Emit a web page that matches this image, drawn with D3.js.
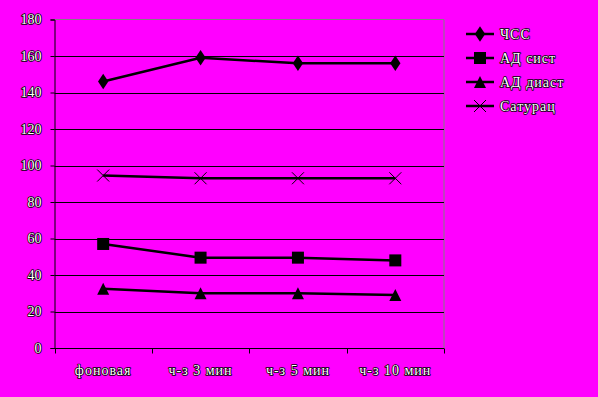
<!DOCTYPE html>
<html>
<head>
<meta charset="utf-8">
<script src="https://cdn.jsdelivr.net/npm/d3@7"></script>
<style>
  body { margin: 0; background: #ff00ff; }
  text { font-family: "Liberation Serif", "DejaVu Serif", serif; font-size: 14px; fill: #ffffff; stroke: #000; stroke-width: 1.6px; paint-order: stroke; stroke-linejoin: round; }
  .spaced { letter-spacing: 1px; }
</style>
</head>
<body>
<div id="chart"></div>
<script>
var categories = ["фоновая", "ч-з 3 мин", "ч-з 5 мин", "ч-з 10 мин"];
var seriesNames = ["ЧСС", "АД сист", "АД диаст", "Сатурац"];
var hss = [146, 159, 156, 156];
var adSist = [57, 49.5, 49.5, 48];
var adDiast = [32.5, 30, 30, 29];
var saturac = [94.5, 93, 93, 93];
var yTicks = [0, 20, 40, 60, 80, 100, 120, 140, 160, 180];

var series = [hss, adSist, adDiast, saturac];
var markers = ["diamond", "square", "triangle", "cross"];

var width = 598, height = 397;
var margin = { left: 54.5, right: 154, top: 19.5, bottom: 49 };

var svg = d3.select("#chart").append("svg")
	.attr("width", width)
	.attr("height", height);

svg.append("rect")
	.attr("width", width).attr("height", height)
	.attr("fill", "#ff00ff");

var x = d3.scaleBand()
	.domain(categories)
	.range([margin.left, width - margin.right]);

var y = d3.scaleLinear()
	.domain([0, 180])
	.range([height - margin.bottom, margin.top]);

// plot border (grey top and right)
svg.append("path")
	.attr("d", "M" + x.range()[0] + "," + y(180) + "H" + x.range()[1] + "V" + y(0))
	.attr("fill", "none")
	.attr("stroke", "#808080")
	.attr("stroke-width", 1);

// gridlines
svg.selectAll("line.grid")
	.data(yTicks.filter(function(d) { return d > 0 && d < 180; }))
	.enter().append("line")
	.attr("class", "grid")
	.attr("x1", x.range()[0]).attr("x2", x.range()[1])
	.attr("y1", function(d) { return Math.round(y(d)) + 0.5; })
	.attr("y2", function(d) { return Math.round(y(d)) + 0.5; })
	.attr("stroke", "#000").attr("stroke-width", 1);

// y axis
var yAxis = svg.append("g")
	.attr("transform", "translate(" + x.range()[0] + ",0)")
	.call(d3.axisLeft(y).tickValues(yTicks).tickSize(4).tickPadding(9));
yAxis.select(".domain").attr("stroke", "#000");

// x axis
var xAxis = svg.append("g")
	.attr("transform", "translate(0," + (Math.round(y(0)) + 0.5) + ")")
	.call(d3.axisBottom(x).tickSize(0).tickPadding(17));
xAxis.select(".domain").remove();
xAxis.selectAll("text").attr("class", "spaced");
xAxis.append("line")
	.attr("x1", x.range()[0]).attr("x2", x.range()[1])
	.attr("stroke", "#000");
xAxis.selectAll("line.tk")
	.data(categories.concat(["end"]))
	.enter().append("line")
	.attr("class", "tk")
	.attr("x1", function(d, i) { return Math.round(x.range()[0] + i * x.step()) + 0.5; })
	.attr("x2", function(d, i) { return Math.round(x.range()[0] + i * x.step()) + 0.5; })
	.attr("y1", 0).attr("y2", 5)
	.attr("stroke", "#000");

var line = d3.line()
	.x(function(d, i) { return x(categories[i]) + x.bandwidth() / 2; })
	.y(function(d) { return y(d); });

function drawMarker(g, type, cx, cy) {
	if (type === "diamond") {
		g.append("path").attr("d", d3.symbol(d3.symbolDiamond, 70)())
			.attr("transform", "translate(" + cx + "," + cy + ") scale(1.15,1)")
			.attr("fill", "#000");
	} else if (type === "square") {
		g.append("rect").attr("x", cx - 6).attr("y", cy - 6)
			.attr("width", 12).attr("height", 12).attr("fill", "#000");
	} else if (type === "triangle") {
		g.append("path")
			.attr("d", "M" + cx + "," + (cy - 6) + "L" + (cx + 6) + "," + (cy + 6) + "L" + (cx - 6) + "," + (cy + 6) + "Z")
			.attr("fill", "#000");
	} else {
		g.append("path")
			.attr("d", "M" + (cx - 6) + "," + (cy - 6) + "L" + (cx + 6) + "," + (cy + 6) +
				"M" + (cx + 6) + "," + (cy - 6) + "L" + (cx - 6) + "," + (cy + 6))
			.attr("stroke", "#000").attr("stroke-width", 1).attr("fill", "none");
	}
}

series.forEach(function(values, s) {
	var g = svg.append("g");
	g.append("path")
		.datum(values)
		.attr("d", line)
		.attr("fill", "none")
		.attr("stroke", "#000")
		.attr("stroke-width", 2.5);
	values.forEach(function(v, i) {
		drawMarker(g, markers[s], x(categories[i]) + x.bandwidth() / 2, y(v));
	});
});

// legend
var legendY = [34, 58, 82, 106];
var legend = svg.append("g");
seriesNames.forEach(function(name, s) {
	var g = legend.append("g");
	g.append("line")
		.attr("x1", 466).attr("x2", 494)
		.attr("y1", legendY[s]).attr("y2", legendY[s])
		.attr("stroke", "#000").attr("stroke-width", 2.5);
	drawMarker(g, markers[s], 480, legendY[s]);
	g.append("text")
		.attr("class", "spaced")
		.attr("x", 500).attr("y", legendY[s] + 5)
		.text(name);
});
</script>
</body>
</html>
